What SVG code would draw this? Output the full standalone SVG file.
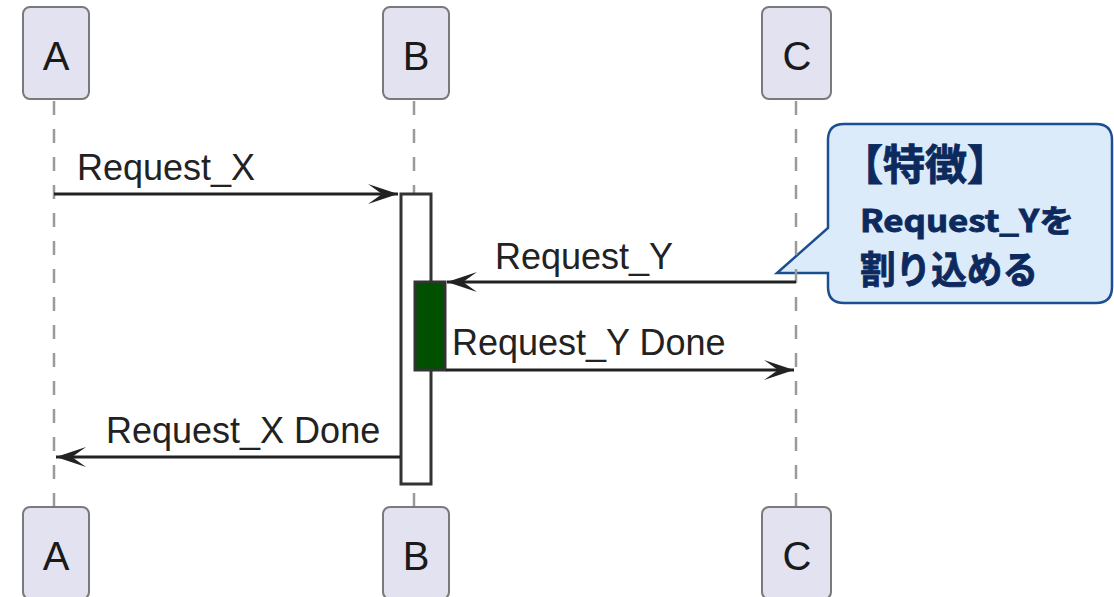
<svg xmlns="http://www.w3.org/2000/svg" width="1114" height="597" viewBox="0 0 1114 597">
<style>
.box{fill:#E2E2F0;stroke:#7a7a7a;stroke-width:2}
.ptxt{font-family:"Liberation Sans",Arial,sans-serif;font-size:40px;fill:#1a1a1a;text-anchor:middle}
.life{stroke:#9a9a9a;stroke-width:2.5;stroke-dasharray:14 14;fill:none}
.msg{stroke:#222;stroke-width:3;fill:none}
.mtxt{font-family:"Liberation Sans",Arial,sans-serif;font-size:36px;fill:#222}
.ctxt{font-family:"Noto Sans CJK JP","Noto Sans",sans-serif;font-weight:bold;fill:#0d2a5e;stroke:#0d2a5e;stroke-width:0.9}
</style>
<defs>
<marker id="ah" markerWidth="32" markerHeight="22" refX="30" refY="11" orient="auto" markerUnits="userSpaceOnUse">
<polygon points="0,1 30,11 0,21 14,11" fill="#222"/>
</marker>
</defs>
<g id="callout">
<path d="M844,124 H1096 Q1112,124 1112,140 V287 Q1112,303 1096,303 H844 Q828,303 828,287 V273 H777 L828,228 V140 Q828,124 844,124 Z" fill="#DCEBFA" stroke="#1b4f8f" stroke-width="2.5"/>
<text class="ctxt" x="841" y="180" font-size="42">【特徴】</text>
<text class="ctxt" x="860" y="232" font-size="31" textLength="214" lengthAdjust="spacingAndGlyphs">Request_Yを</text>
<text class="ctxt" x="860" y="283" font-size="38" textLength="178" lengthAdjust="spacingAndGlyphs">割り込める</text>
</g>
<g id="lifelines">
<line class="life" x1="54" y1="101" x2="54" y2="506"/>
<line class="life" x1="414" y1="101" x2="414" y2="506"/>
<line class="life" x1="796" y1="101" x2="796" y2="506"/>
</g>
<g id="A">
<rect class="box" x="23" y="7" width="66" height="92" rx="7"/>
<text class="ptxt" x="56" y="70">A</text>
</g>
<g id="B">
<rect class="box" x="383" y="7" width="66" height="92" rx="7"/>
<text class="ptxt" x="416" y="70">B</text>
</g>
<g id="C">
<rect class="box" x="762" y="7" width="69" height="92" rx="7"/>
<text class="ptxt" x="797" y="70">C</text>
</g>
<g id="A_bottom">
<rect class="box" x="23" y="507" width="66" height="92" rx="7"/>
<text class="ptxt" x="56" y="570">A</text>
</g>
<g id="B_bottom">
<rect class="box" x="383" y="507" width="66" height="92" rx="7"/>
<text class="ptxt" x="416" y="570">B</text>
</g>
<g id="C_bottom">
<rect class="box" x="762" y="507" width="69" height="92" rx="7"/>
<text class="ptxt" x="797" y="570">C</text>
</g>
<g id="activations">
<rect id="actB" x="401" y="194" width="30" height="290" fill="#ffffff" stroke="#333" stroke-width="3"/>
<rect id="actB2" x="415" y="282" width="30" height="88" fill="#005000" stroke="#333" stroke-width="3"/>
</g>
<g id="connectors">
<line class="msg" x1="54" y1="194" x2="398" y2="194" marker-end="url(#ah)"/>
<text class="mtxt" x="77" y="180">Request_X</text>
<line class="msg" x1="796" y1="282" x2="447" y2="282" marker-end="url(#ah)"/>
<text class="mtxt" x="495" y="269">Request_Y</text>
<line class="msg" x1="446" y1="370" x2="794" y2="370" marker-end="url(#ah)"/>
<text class="mtxt" x="452" y="355">Request_Y Done</text>
<line class="msg" x1="400" y1="457" x2="56" y2="457" marker-end="url(#ah)"/>
<text class="mtxt" x="106" y="443">Request_X Done</text>
</g>
</svg>
